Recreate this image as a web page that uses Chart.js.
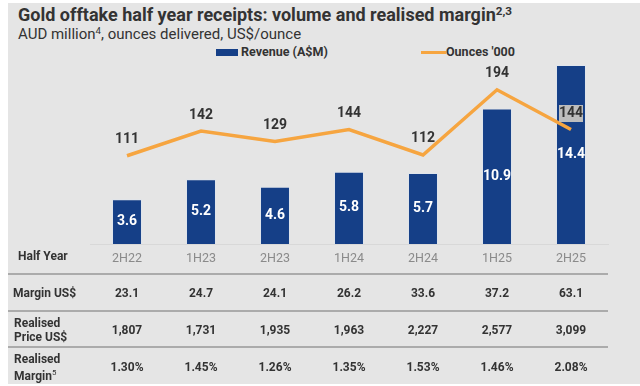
<!DOCTYPE html>
<html>
<head>
<meta charset="utf-8">
<script src="https://cdn.jsdelivr.net/npm/chart.js@4.4.1/dist/chart.umd.min.js"></script>
<style>
  body { margin: 0; width: 640px; height: 386px; overflow: hidden; background: #fff; font-family: Roboto, "Liberation Sans", sans-serif; color: #333; }
  #panel { position: absolute; left: 8px; top: 3px; width: 632px; height: 381px; background: #e5e5e5; }
  #chart { position: absolute; left: 0; top: 0; }
  .abs { position: absolute; white-space: nowrap; }
  #title { left: 18px; top: 4px; font-size: 18px; font-weight: 700; color: #333; }
  #title sup { font-size: 65%; font-weight: 700; vertical-align: 0; position: relative; top: -0.5em; }
  #sub sup { font-size: 65%; vertical-align: 0; position: relative; top: -0.5em; }
  #sub { left: 18px; top: 25px; font-size: 15px; color: #333; }
  .leg { font-size: 12.5px; font-weight: 700; color: #333; line-height: 14px; }
  .sep { position: absolute; left: 8px; width: 600px; height: 2px; background: #ababab; }
  .rowlab { font-size: 12px; font-weight: 700; color: #333; line-height: 14px; }
  .cell { font-size: 12px; font-weight: 700; color: #333; transform: translate(-50%, -50%); }
</style>
</head>
<body>
<div id="panel"></div>
<div id="title" class="abs">Gold offtake half year receipts: volume and realised margin<sup>2,3</sup></div>
<div id="sub" class="abs">AUD million<sup>4</sup>, ounces delivered, US$/ounce</div>
<div id="legend"></div>
<canvas id="chart" width="640" height="274"></canvas>
<div id="table"></div>
<script>
const halfYears = ['2H22', '1H23', '2H23', '1H24', '2H24', '1H25', '2H25'];
const revenue = [3.6, 5.2, 4.6, 5.8, 5.7, 10.9, 14.4];
const ounces = [111, 142, 129, 144, 112, 194, 144];
const marginUsd = [23.1, 24.7, 24.1, 26.2, 33.6, 37.2, 63.1];
const realisedPrice = [1807, 1731, 1935, 1963, 2227, 2577, 3099];
const realisedMargin = [1.30, 1.45, 1.26, 1.35, 1.53, 1.46, 2.08];

const BLUE = '#153f87';
const ORANGE = '#f6a540';

// value labels on bars and line points
const valueLabels = {
  id: 'valueLabels',
  afterDatasetsDraw(chart) {
    const c = chart.ctx;
    c.save();
    c.textAlign = 'center';
    c.textBaseline = 'middle';
    c.font = '700 14px Roboto, "Liberation Sans", sans-serif';
    chart.getDatasetMeta(0).data.forEach((bar, i) => {
      c.fillStyle = '#fff';
      c.fillText(revenue[i].toFixed(1), bar.x, (bar.y + bar.base) / 2);
    });
    chart.getDatasetMeta(1).data.forEach((pt, i) => {
      const y = pt.y - 16;
      if (i === ounces.length - 1) {
        c.fillStyle = '#bdbdbd';
        c.fillRect(pt.x - 12, y - 8.5, 24, 17);
      }
      c.fillStyle = '#333';
      c.fillText(String(ounces[i]), pt.x, y);
    });
    c.restore();
  }
};

const chart = new Chart(document.getElementById('chart'), {
  type: 'bar',
  data: {
    labels: halfYears,
    datasets: [
      { label: 'Revenue (A$M)', data: revenue, backgroundColor: BLUE, borderColor: 'rgba(220,228,240,0.6)', borderWidth: 1,
        yAxisID: 'y', order: 2, categoryPercentage: 1, barPercentage: 0.405 },
      { type: 'line', label: "Ounces '000", data: ounces, borderColor: ORANGE, borderWidth: 3.5,
        pointRadius: 0, tension: 0, yAxisID: 'y1', order: 1 }
    ]
  },
  options: {
    responsive: false,
    animation: false,
    layout: { padding: { left: 90, right: 32, top: 50, bottom: 0 } },
    plugins: { legend: { display: false }, tooltip: { enabled: false } },
    scales: {
      x: {
        grid: { display: false, drawTicks: false },
        border: { display: true, color: '#d8d8d8', width: 1 },
        ticks: { color: '#8a8a8a', padding: 7, maxRotation: 0, font: { family: 'Roboto, "Liberation Sans", sans-serif', size: 12.5 } },
        afterFit(scale) { scale.height = 30; }
      },
      y: { display: false, min: 0, max: 15.6 },
      y1: { display: false, min: 0, max: 244 }
    }
  },
  plugins: [valueLabels]
});

// legend built from the datasets
const legend = document.getElementById('legend');
legend.innerHTML =
  `<div class="abs" style="left:216px;top:49px;width:22px;height:7px;background:${BLUE}"></div>` +
  `<div class="abs leg" style="left:241px;top:45px">${chart.data.datasets[0].label}</div>` +
  `<div class="abs" style="left:421px;top:50.5px;width:25px;height:3px;background:${ORANGE}"></div>` +
  `<div class="abs leg" style="left:446px;top:45px">${chart.data.datasets[1].label}</div>`;

// table under the chart, columns aligned to the x scale
const table = document.getElementById('table');
const xs = chart.scales.x;
const rows = [
  { y: 293, cells: marginUsd.map(v => v.toFixed(1)) },
  { y: 330, cells: realisedPrice.map(v => v.toLocaleString('en-US')) },
  { y: 367, cells: realisedMargin.map(v => v.toFixed(2) + '%') }
];
let html = '';
html += '<div class="abs rowlab" style="left:18px;top:249px">Half Year</div>';
html += '<div class="abs rowlab" style="left:13px;top:286px">Margin US$</div>';
html += '<div class="abs rowlab" style="left:14px;top:316px">Realised<br>Price US$</div>';
html += '<div class="abs rowlab" style="left:14px;top:352px">Realised<br>Margin<sup style="font-size:65%;font-weight:400">5</sup></div>';
[273, 310, 346].forEach(y => { html += `<div class="sep" style="top:${y}px"></div>`; });
rows.forEach(r => {
  r.cells.forEach((t, i) => {
    html += `<div class="abs cell" style="left:${xs.getPixelForValue(i)}px;top:${r.y}px">${t}</div>`;
  });
});
table.innerHTML = html;
</script>
</body>
</html>
